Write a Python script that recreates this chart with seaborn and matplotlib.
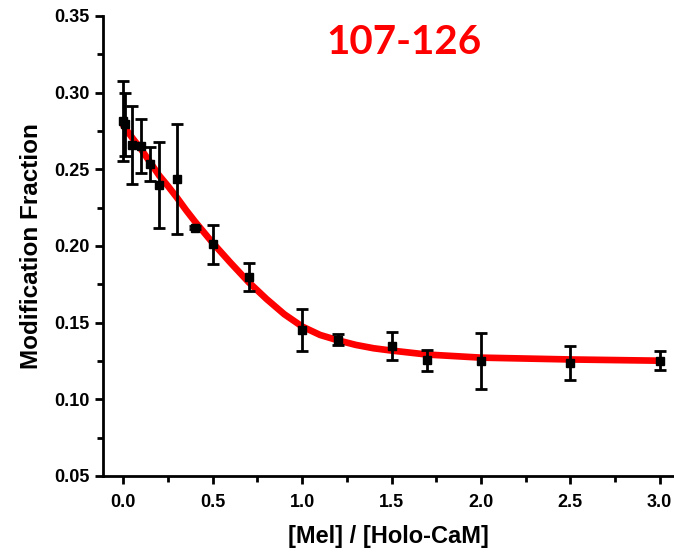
import numpy as np
import pandas as pd
import matplotlib
matplotlib.use("Agg")
import matplotlib.pyplot as plt
import seaborn as sns
from matplotlib.ticker import MultipleLocator, FormatStrFormatter

# measured points (ratio, modification fraction, error)
ratio = [0.0, 0.01, 0.05, 0.1, 0.15, 0.2, 0.3, 0.4, 0.5, 0.7, 1.0, 1.2, 1.5, 1.7, 2.0, 2.5, 3.0]
frac = [0.2817, 0.2793, 0.2657, 0.2652, 0.2533, 0.2398, 0.2437, 0.2120, 0.2011, 0.1799,
        0.1450, 0.1390, 0.1348, 0.1255, 0.1250, 0.1237, 0.1252]
err = [0.0262, 0.0205, 0.0254, 0.0176, 0.0111, 0.0279, 0.0361, 0.0010, 0.0128, 0.0093,
       0.0138, 0.0038, 0.0090, 0.0069, 0.0180, 0.0111, 0.0060]

# fitted curve
fit_x = [0.0, 0.05, 0.1, 0.15, 0.2, 0.25, 0.3, 0.35, 0.4, 0.45, 0.5, 0.6, 0.7, 0.8, 0.9,
         1.0, 1.1, 1.2, 1.3, 1.4, 1.5, 1.7, 2.0, 2.5, 3.0]
fit_y = [0.2785, 0.2705, 0.2630, 0.2545, 0.2460, 0.2390, 0.2315, 0.2235, 0.2160, 0.2090,
         0.2020, 0.1890, 0.1765, 0.1655, 0.1555, 0.1475, 0.1420, 0.1385, 0.1355, 0.1333,
         0.1318, 0.1292, 0.1272, 0.1260, 0.1252]

sns.set_style("ticks")
plt.rcParams["font.family"] = ["Liberation Sans", "DejaVu Sans"]
plt.rcParams["font.weight"] = "bold"
plt.rcParams["text.color"] = "black"
plt.rcParams["axes.labelcolor"] = "black"
plt.rcParams["xtick.color"] = "black"
plt.rcParams["ytick.color"] = "black"
plt.rcParams["axes.edgecolor"] = "black"

fig = plt.figure(figsize=(6.74, 5.53), dpi=100)
ax = fig.add_axes([103/674, 77/553, 1 - 103/674, 460/553])

curve = pd.DataFrame({"x": fit_x, "y": fit_y})
sns.lineplot(data=curve, x="x", y="y", color="#ff0000", linewidth=4.8, ax=ax, zorder=2)
ax.errorbar(ratio, frac, yerr=err, fmt="s", color="black", markersize=5.5,
            elinewidth=2, capsize=4.5, capthick=2, zorder=3)

ax.set_xlim(-0.114, 3.08)
ax.set_ylim(0.05, 0.35)
ax.xaxis.set_major_locator(MultipleLocator(0.5))
ax.xaxis.set_minor_locator(MultipleLocator(0.25))
ax.yaxis.set_major_locator(MultipleLocator(0.05))
ax.yaxis.set_minor_locator(MultipleLocator(0.025))
ax.xaxis.set_major_formatter(FormatStrFormatter("%.1f"))
ax.yaxis.set_major_formatter(FormatStrFormatter("%.2f"))
ax.tick_params(which="major", direction="out", length=6, width=2, labelsize=13)
ax.tick_params(axis="x", which="major", pad=7)
ax.tick_params(which="minor", direction="out", length=4, width=2)
for s in ["left", "bottom"]:
    ax.spines[s].set_linewidth(2)
sns.despine(ax=ax)

ax.set_xlabel("[Mel] / [Holo-CaM]", fontsize=17, fontweight="bold", labelpad=10)
ax.set_ylabel("Modification Fraction", fontsize=17.5, fontweight="bold", labelpad=8)

fig.text(404/674, 1 - 42/553, "107-126", color="#ff0000", fontsize=29,
         fontweight="bold", family=["Lato", "DejaVu Sans"], ha="center", va="center")

fig.savefig("out.png", dpi=100)
